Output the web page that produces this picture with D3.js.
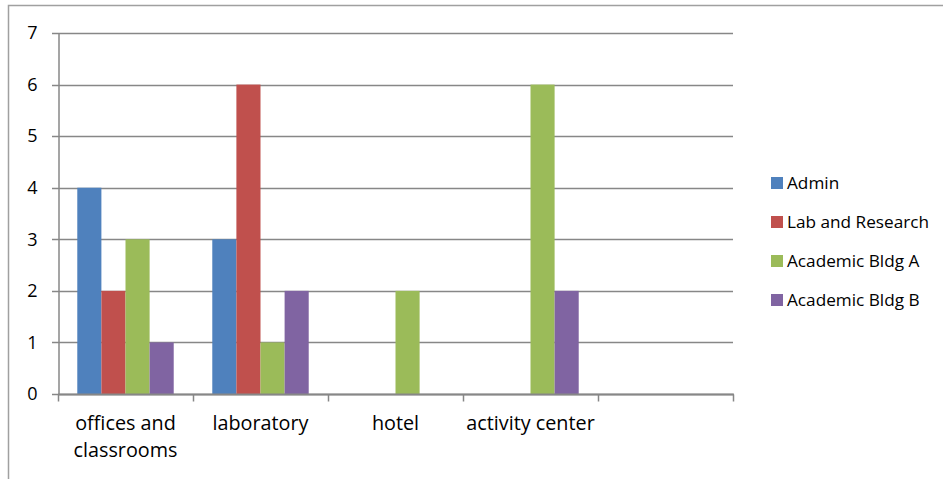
<!DOCTYPE html>
<html>
<head>
<meta charset="utf-8">
<script src="https://cdn.jsdelivr.net/npm/d3@7"></script>
<style>
  body { margin: 0; background: #fff; }
  text { font-family: "Open Sans", Lato, sans-serif; fill: #000; }
</style>
</head>
<body>
<svg id="chart" width="943" height="479"></svg>
<script>
// chart data
const categories = ["offices and\nclassrooms", "laboratory", "hotel", "activity center", ""];
const seriesNames = ["Admin", "Lab and Research", "Academic Bldg A", "Academic Bldg B"];
const admin = [4, 3, 0, 0, 0];
const labResearch = [2, 6, 0, 0, 0];
const academicA = [3, 1, 2, 6, 0];
const academicB = [1, 2, 0, 2, 0];
const yTicks = [0, 1, 2, 3, 4, 5, 6, 7];
const colors = ["#4F81BD", "#C0504D", "#9BBB59", "#8064A2"];

const allSeries = [admin, labResearch, academicA, academicB];

const svg = d3.select("#chart");
const gridColor = "#878787";

// outer frame
svg.append("rect")
  .attr("x", 8.5).attr("y", 5.5)
  .attr("width", 1000).attr("height", 1000)
  .attr("fill", "none").attr("stroke", "#a0a0a0").attr("stroke-width", 1.5);

const plotL = 58, plotR = 733, plotT = 33, plotB = 394;

const x = d3.scaleBand().domain(d3.range(categories.length)).range([plotL, plotR]).paddingInner(0).paddingOuter(0);
const inner = d3.scaleBand().domain(d3.range(seriesNames.length)).range([0, x.bandwidth()]).paddingOuter(0.8).paddingInner(0);
const y = d3.scaleLinear().domain([0, 7]).range([plotB, plotT]);

// gridlines
svg.append("g").selectAll("line").data(yTicks).join("line")
  .attr("x1", plotL - 6).attr("x2", plotR)
  .attr("y1", d => Math.round(y(d)) + 0.5).attr("y2", d => Math.round(y(d)) + 0.5)
  .attr("stroke", gridColor).attr("stroke-width", 1.3);

// bars
allSeries.forEach((vals, s) => {
  svg.append("g").selectAll("rect").data(vals).join("rect")
    .attr("x", (d, i) => x(i) + inner(s))
    .attr("y", d => y(d))
    .attr("width", inner.bandwidth())
    .attr("height", d => y(0) - y(d))
    .attr("fill", colors[s]);
});

// y axis
const yAxis = svg.append("g").attr("transform", `translate(${plotL + 0.5},0)`)
  .call(d3.axisLeft(y).tickValues(yTicks).tickSize(0).tickPadding(21).tickFormat(d3.format("d")));
yAxis.select(".domain").attr("stroke", gridColor).attr("stroke-width", 1.5);
yAxis.selectAll("text").style("font-size", "18px").attr("fill", "#000");

// x axis
const xAxis = svg.append("g").attr("transform", `translate(0,${Math.round(y(0)) + 0.5})`);
xAxis.append("line").attr("x1", plotL).attr("x2", plotR + 1)
  .attr("stroke", gridColor).attr("stroke-width", 2);
xAxis.selectAll(".tk").data(d3.range(categories.length + 1)).join("line")
  .attr("class", "tk")
  .attr("x1", i => Math.round(plotL + i * x.step()) + 0.5)
  .attr("x2", i => Math.round(plotL + i * x.step()) + 0.5)
  .attr("y1", 0).attr("y2", 7)
  .attr("stroke", gridColor).attr("stroke-width", 1.5);

const labels = xAxis.selectAll(".lbl").data(categories).join("text")
  .attr("class", "lbl")
  .attr("text-anchor", "middle")
  .style("font-size", "19.8px")
  .attr("transform", (d, i) => `translate(${x(i) + x.bandwidth() / 2},35)`);
labels.each(function(d) {
  d.split("\n").forEach((line, k) => {
    d3.select(this).append("tspan").attr("x", 0).attr("y", k * 27).text(line);
  });
});

// legend
const legend = svg.append("g").attr("transform", "translate(771,183)");
seriesNames.forEach((name, i) => {
  const g = legend.append("g").attr("transform", `translate(0,${i * 39})`);
  g.append("rect").attr("x", 0).attr("y", -6).attr("width", 12).attr("height", 12).attr("fill", colors[i]);
  g.append("text").attr("x", 16).attr("y", 0).attr("dy", "0.35em")
    .style("font-size", "17.2px").text(name);
});
</script>
</body>
</html>
